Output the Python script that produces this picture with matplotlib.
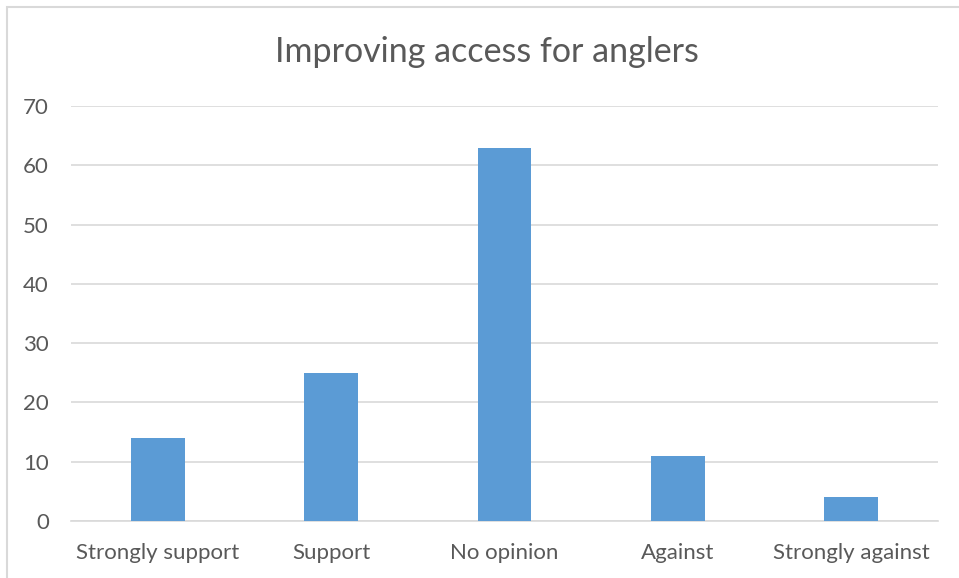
import matplotlib
matplotlib.use("Agg")
import matplotlib.pyplot as plt
from matplotlib.patches import Rectangle

categories = ["Strongly support", "Support", "No opinion", "Against", "Strongly against"]
values = [14, 25, 63, 11, 4]
yticks = [0, 10, 20, 30, 40, 50, 60, 70]
title = "Improving access for anglers"

plt.rcParams['font.family'] = ['Lato', 'DejaVu Sans']
text_color = "#595959"
fig = plt.figure(figsize=(9.59, 5.78), dpi=100)
fig.patches.append(Rectangle((7/959, -0.1), 1.2, 1 - 7/578 + 0.1, transform=fig.transFigure,
                             fill=False, edgecolor="#D9D9D9", linewidth=1.5))
ax = fig.add_axes([71/959, 1 - 521/578, (938 - 71)/959, (521 - 106)/578])
x = range(len(categories))
ax.bar(x, values, width=0.31, color="#5B9BD5", zorder=3)
ax.set_xlim(-0.5, len(categories) - 0.5)
ax.set_ylim(0, 70)
ax.set_yticks(yticks)
ax.set_xticks(list(x))
ax.set_xticklabels(categories)
ax.grid(axis="y", color="#D9D9D9", linewidth=1.2, zorder=0)
for s in ["top", "right", "left"]:
    ax.spines[s].set_visible(False)
ax.spines["bottom"].set_color("#D9D9D9")
ax.spines["bottom"].set_linewidth(1.2)
ax.tick_params(axis="both", length=0, labelsize=16, colors=text_color)
ax.tick_params(axis="y", pad=16)
ax.tick_params(axis="x", pad=16)
for lab in ax.get_yticklabels():
    lab.set_horizontalalignment("right")
fig.text(487 / 959, 1 - 52/578, title, ha="center", va="center",
         fontsize=24.5, color=text_color)
fig.savefig("out.png", dpi=100)
